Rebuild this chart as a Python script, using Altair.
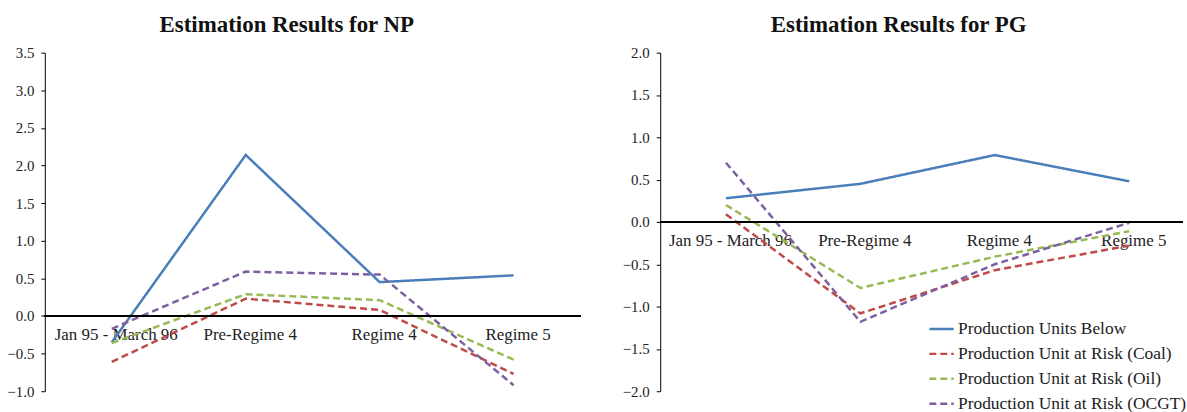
import altair as alt
import pandas as pd

categories = ["Jan 95 - March 96", "Pre-Regime 4", "Regime 4", "Regime 5"]
series = [
    "Production Units Below",
    "Production Unit at Risk (Coal)",
    "Production Unit at Risk (Oil)",
    "Production Unit at Risk (OCGT)",
]
colors = ["#4A7EBB", "#BE4B48", "#98B954", "#7D60A0"]

np_below = [-0.35, 2.14, 0.45, 0.54]
np_coal = [-0.61, 0.23, 0.08, -0.77]
np_oil = [-0.36, 0.29, 0.21, -0.58]
np_ocgt = [-0.17, 0.59, 0.55, -0.92]

pg_below = [0.28, 0.45, 0.79, 0.48]
pg_coal = [0.09, -1.08, -0.57, -0.28]
pg_oil = [0.20, -0.78, -0.41, -0.11]
pg_ocgt = [0.70, -1.18, -0.50, -0.01]

np_ticks = [-1.0, -0.5, 0.0, 0.5, 1.0, 1.5, 2.0, 2.5, 3.0, 3.5]
pg_ticks = [-2.0, -1.5, -1.0, -0.5, 0.0, 0.5, 1.0, 1.5, 2.0]

FONT = "Liberation Serif"
TEXT = "#222222"


def frame(vals):
    rows = []
    for s, v in zip(series, vals):
        for c, y in zip(categories, v):
            rows.append({"category": c, "series": s, "value": y})
    return pd.DataFrame(rows)


df_np = frame([np_below, np_coal, np_oil, np_ocgt])
df_pg = frame([pg_below, pg_coal, pg_oil, pg_ocgt])


def legend_params(show):
    if not show:
        return None
    return alt.Legend(
        title=None,
        orient="none",
        legendX=269,
        legendY=264,
        symbolType="stroke",
        symbolStrokeWidth=2.5,
        symbolSize=600,
        labelFont=FONT,
        labelFontSize=17.5,
        labelColor=TEXT,
        labelLimit=400,
        rowPadding=3,
        labelOffset=3,
    )


def panel(df, ticks, ymin, ymax, width, xpad, xalign, rule_w, title, dx, extent, show_legend):
    height = 340
    offset = -(height * (0 - ymin) / (ymax - ymin))
    yscale = alt.Scale(domain=[ymin, ymax], nice=False, zero=False)
    yaxis = alt.Axis(
        title=None,
        values=ticks,
        format=".1f",
        grid=False,
        domainColor="black",
        tickColor="black",
        tickSize=4,
        labelFont=FONT,
        labelFontSize=15,
        labelColor=TEXT,
        labelPadding=7,
        minExtent=extent,
        maxExtent=extent,
    )
    lkw = {"legend": legend_params(show_legend)}
    lines = alt.Chart(df).mark_line(strokeWidth=2.5).encode(
        x=alt.X(
            "category:N",
            sort=categories,
            scale=alt.Scale(domain=categories, padding=xpad, align=xalign),
            axis=alt.Axis(
                title=None,
                domain=False,
                ticks=False,
                grid=False,
                labelAngle=0,
                labelPadding=11,
                labelOffset=4,
                labelFont=FONT,
                labelFontSize=17,
                labelColor=TEXT,
                offset=offset,
                labelLimit=300,
            ),
        ),
        y=alt.Y("value:Q", scale=yscale, axis=yaxis),
        color=alt.Color(
            "series:N",
            sort=series,
            scale=alt.Scale(domain=series, range=colors),
            **lkw,
        ),
        strokeDash=alt.StrokeDash(
            "series:N",
            sort=series,
            scale=alt.Scale(domain=series, range=[[1, 0], [7, 4], [7, 4], [7, 4]]),
            **lkw,
        ),
    )
    zero = alt.Chart(df).mark_rule(color="black", strokeWidth=1.3).encode(
        y=alt.datum(0, scale=yscale, axis=yaxis),
        x=alt.value(0),
        x2=alt.value(rule_w),
    )
    return alt.layer(lines, zero).properties(
        width=width,
        height=height,
        title=alt.TitleParams(
            title,
            font=FONT,
            fontSize=23,
            fontWeight="bold",
            anchor="middle",
            dx=dx,
            offset=9,
            color="#111111",
        ),
    )


left = panel(df_np, np_ticks, -1.0, 3.5, 538, 0.5, 0.5, 538,
             "Estimation Results for NP", -26, 45, False)
right = panel(df_pg, pg_ticks, -2.0, 2.0, 525, 0.4444, 0.55, 525,
              "Estimation Results for PG", -23, 45, True)

chart = (
    alt.hconcat(left, right, spacing=34)
    .resolve_scale(y="independent")
    .resolve_legend(color="independent", strokeDash="independent")
    .properties(
        padding={"left": 0, "top": 13, "right": 0, "bottom": 0},
        background="white",
    )
    .configure_view(stroke="transparent", strokeWidth=0)
    .configure_axis(labelFont=FONT)
    .configure_legend(labelFont=FONT)
)

chart.save("out.html", embed_options={"renderer": "svg", "actions": False})
